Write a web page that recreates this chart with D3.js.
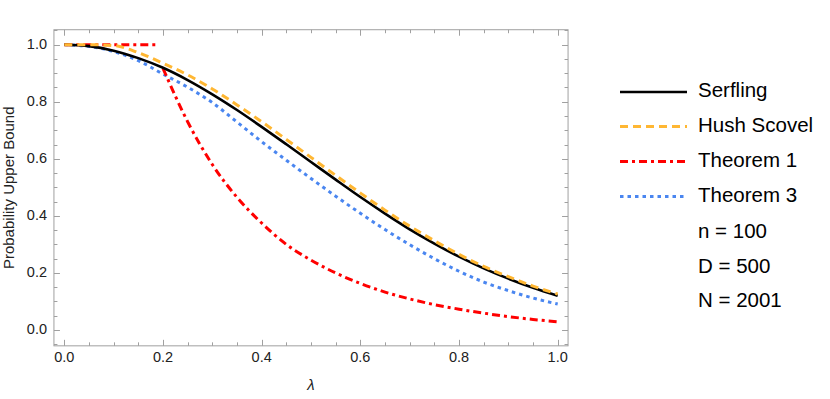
<!DOCTYPE html>
<html>
<head>
<meta charset="utf-8">
<script src="https://cdn.jsdelivr.net/npm/d3@7"></script>
<style>
  body { margin: 0; background: #fff; }
  svg { display: block; font-family: "Liberation Sans", Arial, sans-serif; }
</style>
</head>
<body>
<div id="plot"></div>
<script>
// lambda grid and bound values
const lambdas = [0, 0.05, 0.1, 0.15, 0.2, 0.25, 0.3, 0.35, 0.4, 0.45, 0.5,
                 0.55, 0.6, 0.65, 0.7, 0.75, 0.8, 0.85, 0.9, 0.95, 1.0];
const serfling = [1.000, 0.995, 0.979, 0.953, 0.919, 0.876, 0.826, 0.771, 0.712, 0.651, 0.589,
                  0.527, 0.466, 0.408, 0.353, 0.303, 0.257, 0.216, 0.180, 0.148, 0.120];
const hushScovel = [1.000, 1.000, 0.997, 0.972, 0.935, 0.894, 0.845, 0.789, 0.730, 0.668, 0.605,
                    0.542, 0.480, 0.420, 0.364, 0.313, 0.265, 0.223, 0.187, 0.154, 0.126];
const theorem3 = [1.000, 0.994, 0.976, 0.944, 0.897, 0.851, 0.797, 0.729, 0.660, 0.595, 0.531,
                  0.469, 0.409, 0.352, 0.299, 0.250, 0.206, 0.168, 0.138, 0.112, 0.091];
// Theorem 1 is drawn in two pieces: a flat part at 1 and the decaying part
const theorem1FlatLambda = [0, 0.19];
const theorem1Flat = [1, 1];
const theorem1Lambda = [0.2, 0.25, 0.3, 0.35, 0.4, 0.45, 0.5, 0.55, 0.6, 0.65, 0.7,
                        0.75, 0.8, 0.85, 0.9, 0.95, 1.0];
const theorem1 = [0.917, 0.73, 0.58, 0.465, 0.375, 0.30, 0.245, 0.20, 0.163, 0.133, 0.109,
                  0.089, 0.073, 0.059, 0.047, 0.037, 0.029];

const xTicks = [0, 0.2, 0.4, 0.6, 0.8, 1.0];
const yTicks = [0, 0.2, 0.4, 0.6, 0.8, 1.0];
const legendLabels = ["Serfling", "Hush Scovel", "Theorem 1", "Theorem 3"];
const paramLabels = ["n = 100", "D = 500", "N = 2001"];

const W = 830, H = 399;
const svg = d3.select("#plot").append("svg")
  .attr("width", W).attr("height", H);

const x = d3.scaleLinear().domain([0, 1]).range([64.3, 557.7]);
const y = d3.scaleLinear().domain([0, 1]).range([330, 44.7]);
const xPad = [-0.021, 1.021], yPad = [-0.0555, 1.0525];

const fLeft = x(xPad[0]), fRight = x(xPad[1]), fTop = y(yPad[1]), fBottom = y(yPad[0]);
const frameColor = "#a0a0a0";

// frame
svg.append("rect")
  .attr("x", fLeft).attr("y", fTop)
  .attr("width", fRight - fLeft).attr("height", fBottom - fTop)
  .attr("fill", "none").attr("stroke", frameColor).attr("stroke-width", 1);

// ticks (major every 0.2, minor every 0.05), on all four sides
const minorX = d3.range(0, 21).map(i => i * 0.05).filter(v => v >= xPad[0] && v <= xPad[1]);
const minorY = d3.range(-1, 22).map(i => i * 0.05).filter(v => v >= yPad[0] && v <= yPad[1]);
const isMajor = v => Math.abs(v * 5 - Math.round(v * 5)) < 1e-6;
const ticks = svg.append("g").attr("stroke", frameColor).attr("stroke-width", 1);
minorX.forEach(v => {
  const len = isMajor(v) ? 6 : 3.5;
  const px = Math.round(x(v)) + 0.5;
  ticks.append("line").attr("x1", px).attr("x2", px).attr("y1", fBottom).attr("y2", fBottom - len);
  ticks.append("line").attr("x1", px).attr("x2", px).attr("y1", fTop).attr("y2", fTop + len);
});
minorY.forEach(v => {
  const len = isMajor(v) ? 6 : 3.5;
  const py = Math.round(y(v)) + 0.5;
  ticks.append("line").attr("y1", py).attr("y2", py).attr("x1", fLeft).attr("x2", fLeft + len);
  ticks.append("line").attr("y1", py).attr("y2", py).attr("x1", fRight).attr("x2", fRight - len);
});

// tick labels
svg.append("g").selectAll("text").data(xTicks).join("text")
  .attr("x", d => x(d)).attr("y", 358)
  .attr("text-anchor", "middle").attr("dominant-baseline", "middle")
  .attr("font-size", 14.5).attr("fill", "#222")
  .text(d => d3.format(".1f")(d));
svg.append("g").selectAll("text").data(yTicks).join("text")
  .attr("x", 47).attr("y", d => y(d) + 0.5)
  .attr("text-anchor", "end").attr("dominant-baseline", "middle")
  .attr("font-size", 14.5).attr("fill", "#222")
  .text(d => d3.format(".1f")(d));

// axis labels
svg.append("text")
  .attr("x", x(0.5)).attr("y", 386)
  .attr("text-anchor", "middle").attr("dominant-baseline", "middle")
  .attr("font-size", 15).attr("font-style", "italic").attr("fill", "#222")
  .text("λ");
svg.append("text")
  .attr("transform", `translate(10,${(fTop + fBottom) / 2}) rotate(-90)`)
  .attr("text-anchor", "middle").attr("dominant-baseline", "middle")
  .attr("font-size", 15).attr("fill", "#222")
  .text("Probability Upper Bound");

// series
const styles = [
  {color: "#000000", width: 2.6, dash: null},
  {color: "#ffb733", width: 3, dash: "8,5"},
  {color: "#ff0000", width: 3, dash: "8,4,3,4"},
  {color: "#4a86f0", width: 3, dash: "3.5,4"}
];
const line = d3.line().x(d => x(d[0])).y(d => y(d[1])).curve(d3.curveMonotoneX);
const zip = (a, b) => a.map((v, i) => [v, b[i]]);

const plot = svg.append("g");
function drawSeries(pts, s) {
  plot.append("path")
    .attr("d", line(pts))
    .attr("fill", "none")
    .attr("stroke", s.color)
    .attr("stroke-width", s.width)
    .attr("stroke-dasharray", s.dash);
}
drawSeries(zip(lambdas, theorem3), styles[3]);
drawSeries(zip(theorem1FlatLambda, theorem1Flat), styles[2]);
drawSeries(zip(theorem1Lambda, theorem1), styles[2]);
drawSeries(zip(lambdas, serfling), styles[0]);
drawSeries(zip(lambdas, hushScovel), styles[1]);

// legend
const rowY = [92, 126.5, 161.5, 196.5, 232.5, 267.5, 302];
const legend = svg.append("g");
legendLabels.forEach((lab, i) => {
  const s = styles[i];
  legend.append("line")
    .attr("x1", 620).attr("x2", 687)
    .attr("y1", rowY[i]).attr("y2", rowY[i])
    .attr("stroke", s.color).attr("stroke-width", s.width)
    .attr("stroke-dasharray", s.dash);
  legend.append("text")
    .attr("x", 698).attr("y", rowY[i])
    .attr("dominant-baseline", "middle")
    .attr("font-size", 20.5).attr("fill", "#000")
    .text(lab);
});
paramLabels.forEach((lab, i) => {
  legend.append("text")
    .attr("x", 698).attr("y", rowY[i + 4])
    .attr("dominant-baseline", "middle")
    .attr("font-size", 20.5).attr("fill", "#000")
    .text(lab);
});
</script>
</body>
</html>
